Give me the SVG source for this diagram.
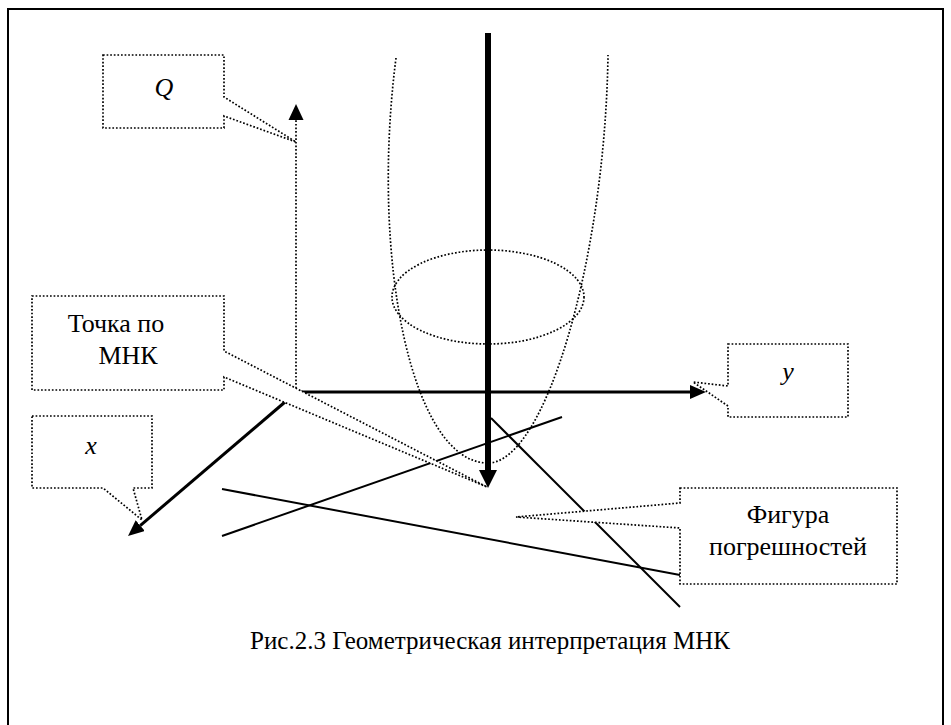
<svg xmlns="http://www.w3.org/2000/svg" width="951" height="725" viewBox="0 0 951 725">
  <style>
    .dot { fill: none; stroke: #000; stroke-width: 1.7; stroke-dasharray: 1.7 1.9; }
    .call { fill: #fff; stroke: #000; stroke-width: 1.7; stroke-dasharray: 1.7 1.9; }
    .solid { fill: none; stroke: #000; stroke-width: 2; }
    .lbl { font-family: "Liberation Serif", "Times New Roman", Tinos, "DejaVu Serif", serif; font-size: 26px; fill: #000; text-anchor: middle; }
    .var { font-style: italic; }
    .cap { font-size: 25px; }
  </style>
  <defs>
    <marker id="headBig" markerUnits="userSpaceOnUse" viewBox="0 0 18 18" markerWidth="18" markerHeight="18" refX="0" refY="9" orient="auto">
      <path d="M0,0 L18,9 L0,18 Z" fill="#000"/>
    </marker>
    <marker id="head" markerUnits="userSpaceOnUse" viewBox="0 0 16 14" markerWidth="16" markerHeight="14" refX="0" refY="7" orient="auto">
      <path d="M0,0 L16,7 L0,14 Z" fill="#000"/>
    </marker>
  </defs>

  <rect width="951" height="725" fill="#fff"/>
  <!-- page frame -->
  <rect x="8" y="9" width="935" height="740" fill="none" stroke="#000" stroke-width="2"/>

  <!-- error surface: paraboloid outline and level ellipse -->
  <g id="surface">
    <path class="dot" d="M396,58 C370,260 412,463 488,463 C545,463 605,260 608,55"/>
    <ellipse class="dot" cx="488" cy="297" rx="96" ry="47"/>
  </g>

  <g id="connectors">
    <!-- Q axis (dotted) with head -->
    <line class="dot" x1="296" y1="392" x2="296" y2="120"/>
    <path d="M288.5,120 L303.5,120 L296,104 Z" fill="#000"/>
    <!-- y axis -->
    <line x1="298" y1="392" x2="690" y2="392" stroke="#000" stroke-width="3" marker-end="url(#head)"/>
    <!-- x axis -->
    <line x1="285" y1="402" x2="140.2" y2="525.6" stroke="#000" stroke-width="3" marker-end="url(#head)"/>
    <!-- descent to the least-squares point -->
    <line x1="488" y1="33" x2="488" y2="470" stroke="#000" stroke-width="6" marker-end="url(#headBig)"/>
    <!-- error figure lines -->
    <line class="solid" x1="222" y1="489" x2="680" y2="575"/>
    <line class="solid" x1="222" y1="536" x2="562" y2="417"/>
    <line class="solid" x1="491" y1="418" x2="680" y2="607"/>
  </g>

  <g id="callout-q">
    <path class="call" d="M103,55 H224 V97 L296,142 L224,116 V128 H103 Z"/>
    <text class="lbl var" x="164" y="96">Q</text>
  </g>

  <g id="callout-point">
    <path class="call" d="M32,296 H224 V351 L487,487 L224,377 V390 H32 Z"/>
    <text class="lbl" x="116" y="332">Точка по</text>
    <text class="lbl" x="128" y="364">МНК</text>
  </g>

  <g id="callout-x">
    <path class="call" d="M32,416 H152 V488 H133 L142,520 L103,488 H32 Z"/>
    <text class="lbl var" x="91" y="454">x</text>
  </g>

  <g id="callout-y">
    <path class="call" d="M728,344 H848 V417 H728 V406 L693,382 L728,386 Z"/>
    <text class="lbl var" x="788" y="380">y</text>
  </g>

  <g id="callout-figure">
    <path class="call" d="M680,488 H897 V584 H680 V528 L516,517 L680,503 Z"/>
    <text class="lbl" x="788" y="523">Фигура</text>
    <text class="lbl" x="788" y="555">погрешностей</text>
  </g>

  <text class="lbl cap" x="490" y="649">Рис.2.3 Геометрическая интерпретация МНК</text>
</svg>
